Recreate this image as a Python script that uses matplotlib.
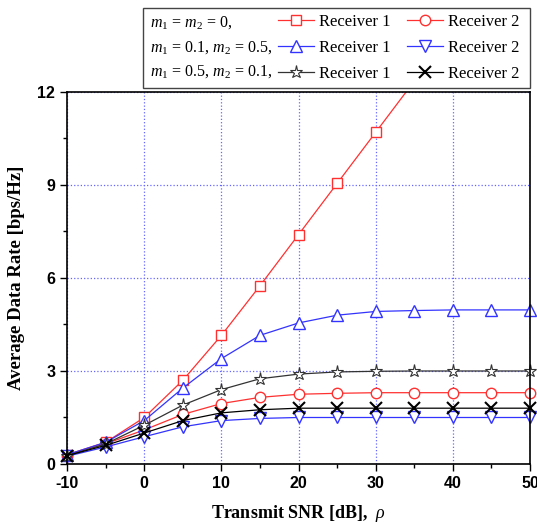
import matplotlib.pyplot as plt
from matplotlib.patches import Rectangle
from matplotlib.ticker import MultipleLocator

plt.rcParams['font.family'] = ['Liberation Serif', 'DejaVu Serif']
plt.rcParams['mathtext.fontset'] = 'custom'
plt.rcParams['mathtext.it'] = 'Liberation Serif:italic'
plt.rcParams['mathtext.rm'] = 'Liberation Serif'
plt.rcParams['axes.unicode_minus'] = False

snr = [-10, -5, 0, 5, 10, 15, 20, 25, 30, 35, 40, 45, 50]

# m1 = m2 = 0
r1_case1 = [0.3, 0.7, 1.5, 2.7, 4.15, 5.75, 7.4, 9.05, 10.7, 12.35, 14.0, 15.65, 17.3]
r2_case1 = [0.27, 0.65, 1.1, 1.6, 1.95, 2.15, 2.25, 2.28, 2.3, 2.3, 2.3, 2.3, 2.3]
# m1 = 0.1, m2 = 0.5
r1_case2 = [0.3, 0.7, 1.4, 2.45, 3.4, 4.15, 4.55, 4.8, 4.92, 4.95, 4.97, 4.97, 4.97]
r2_case2 = [0.25, 0.55, 0.88, 1.2, 1.4, 1.47, 1.5, 1.5, 1.5, 1.5, 1.5, 1.5, 1.5]
# m1 = 0.5, m2 = 0.1
r1_case3 = [0.27, 0.65, 1.25, 1.9, 2.4, 2.75, 2.9, 2.97, 2.99, 3.0, 3.0, 3.0, 3.0]
r2_case3 = [0.27, 0.6, 1.0, 1.4, 1.65, 1.75, 1.8, 1.8, 1.8, 1.8, 1.8, 1.8, 1.8]

case_labels = [r'$m_1$ = $m_2$ = 0,', r'$m_1$ = 0.1, $m_2$ = 0.5,', r'$m_1$ = 0.5, $m_2$ = 0.1,']

fig = plt.figure(figsize=(5.37, 5.24), dpi=100)
ax = fig.add_axes([0.125, 0.1145, 0.862, 0.71])

h1, = ax.plot(snr, r1_case1, color='#ff3030', lw=0.9, marker='s', mfc='white', ms=7, mew=1.0)
h2, = ax.plot(snr, r2_case1, color='#ff3030', lw=0.9, marker='o', mfc='white', ms=7.5, mew=1.0, clip_on=False)
h3, = ax.plot(snr, r1_case2, color='#3333ff', lw=0.9, marker='^', mfc='white', ms=8.5, mew=1.0, clip_on=False)
h4, = ax.plot(snr, r2_case2, color='#3333ff', lw=0.9, marker='v', mfc='white', ms=8.5, mew=1.0, clip_on=False)
h5, = ax.plot(snr, r1_case3, color='#333333', lw=0.9, marker='*', mfc='white', ms=9.5, mew=0.8, clip_on=False)
h6, = ax.plot(snr, r2_case3, color='black', lw=0.9, marker='x', ms=8.5, mew=1.5, clip_on=False)

ax.set_xlim(-10, 50)
ax.set_ylim(0, 12)
ax.xaxis.set_major_locator(MultipleLocator(10))
ax.xaxis.set_minor_locator(MultipleLocator(5))
ax.yaxis.set_major_locator(MultipleLocator(3))
ax.yaxis.set_minor_locator(MultipleLocator(1.5))
ax.grid(True, which='major', color='#6666ff', linestyle=':', lw=0.9)
ax.tick_params(labelsize=11.5, width=1, length=5)
ax.tick_params(which='minor', width=1, length=3)
for lab in ax.get_xticklabels() + ax.get_yticklabels():
    lab.set_fontweight('bold')
    lab.set_family('Liberation Sans')
for s in ax.spines.values():
    s.set_linewidth(1.2)

ax.set_xlabel(r'Transmit SNR [dB],  $\rho$', fontsize=13, fontweight='bold', labelpad=9)
ax.set_ylabel('Average Data Rate [bps/Hz]', fontsize=13.5, fontweight='bold', labelpad=9)

# legend: frame + case labels as text, receivers as a two-column legend
fig.patches.append(Rectangle((143 / 537, 1 - 88 / 524), 387 / 537, 80 / 524,
                             transform=fig.transFigure, fill=False,
                             edgecolor='#444444', lw=1.0))
for i, lab in enumerate(case_labels):
    fig.text(150 / 537, 1 - (23 + 24.5 * i) / 524, lab, fontsize=11.5, va='center')

leg = fig.legend([h1, h3, h5, h2, h4, h6], ['Receiver 1'] * 3 + ['Receiver 2'] * 3,
                 ncol=2, loc='upper left', bbox_to_anchor=(278 / 537, 1 - 14 / 524),
                 fontsize=12, frameon=False, borderpad=0, borderaxespad=0,
                 handlelength=2.15, handletextpad=0.3, columnspacing=1.0,
                 labelspacing=0.6)

fig.savefig('out.png', dpi=100)
